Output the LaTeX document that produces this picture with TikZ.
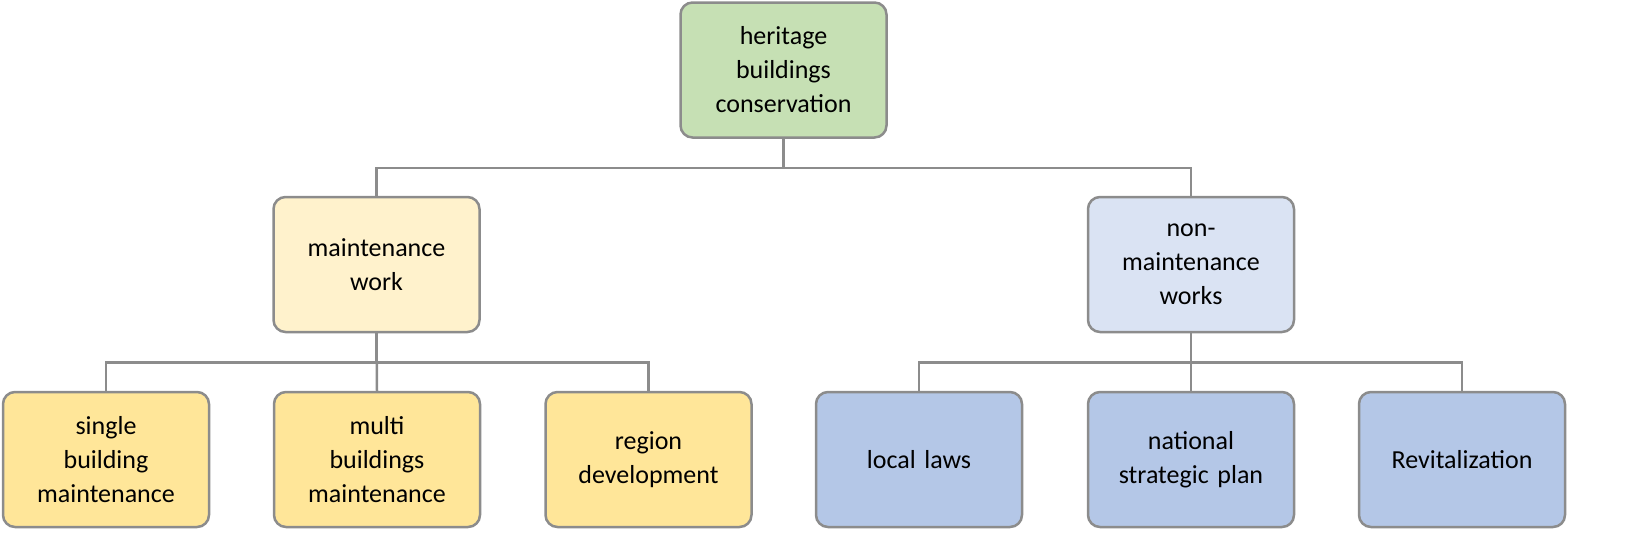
\documentclass[tikz,border=0pt]{standalone}
\usepackage{fontspec}
\setmainfont{Carlito}
\begin{document}
\begin{tikzpicture}[
  box/.style={draw=black!45,line width=2.5pt,rounded corners=12pt,minimum width=206pt,minimum height=135pt,align=center,text width=190pt,font=\fontsize{26}{34}\selectfont},
  conn/.style={draw=black!45,line width=2.5pt}]
\path[use as bounding box] (0pt,0pt) rectangle (1636pt,-555pt);
\definecolor{cg}{HTML}{C6E0B4}
\definecolor{cy}{HTML}{FFF2CC}
\definecolor{cgold}{HTML}{FFE699}
\definecolor{clb}{HTML}{DAE3F3}
\definecolor{cb}{HTML}{B4C7E7}
\node[box,fill=cg] (top) at (783.5pt,-70pt) {heritage\\buildings\\conservation};
\node[box,fill=cy] (mw) at (376.5pt,-264.5pt) {maintenance\\work};
\node[box,fill=clb] (nm) at (1191pt,-264.5pt) {non-\\maintenance\\works};
\node[box,fill=cgold] (s) at (106pt,-459.5pt) {single\\building\\maintenance};
\node[box,fill=cgold] (m) at (377pt,-459.5pt) {multi\\buildings\\maintenance};
\node[box,fill=cgold] (r) at (648.5pt,-459.5pt) {region\\development};
\node[box,fill=cb] (l) at (919pt,-459.5pt) {local laws};
\node[box,fill=cb] (n) at (1191pt,-459.5pt) {national\\strategic plan};
\node[box,fill=cb] (v) at (1462pt,-459.5pt) {Revitalization};
\draw[conn] (top.south) -- ++(0,-29pt) -| (mw.north);
\draw[conn] (top.south) -- ++(0,-29pt) -| (nm.north);
\draw[conn] (mw.south) -- ++(0,-29pt) -| (s.north);
\draw[conn] (mw.south) -- (m.north);
\draw[conn] (mw.south) -- ++(0,-29pt) -| (r.north);
\draw[conn] (nm.south) -- ++(0,-29pt) -| (l.north);
\draw[conn] (nm.south) -- (n.north);
\draw[conn] (nm.south) -- ++(0,-29pt) -| (v.north);
\end{tikzpicture}
\end{document}
